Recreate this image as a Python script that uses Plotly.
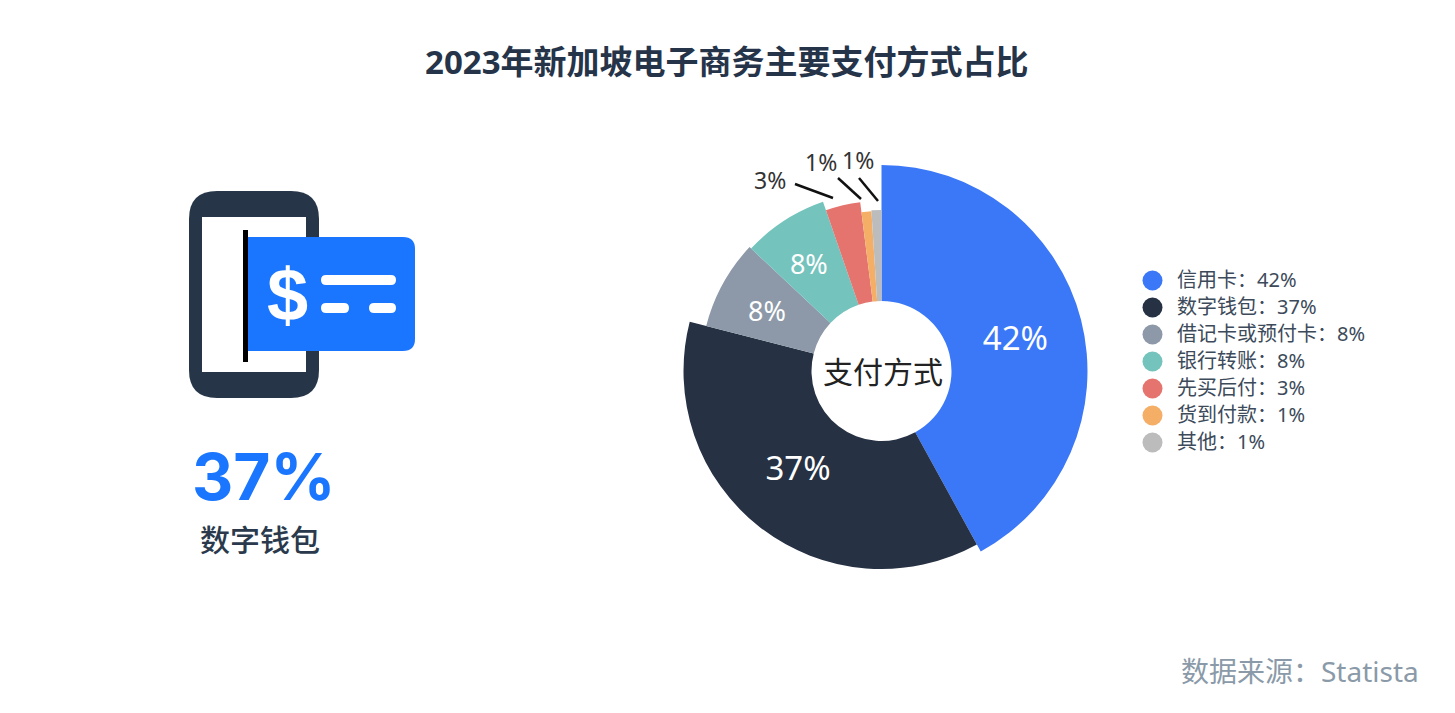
import plotly.graph_objects as go

WIDTH = 1455
HEIGHT = 713
FONT = "Noto Sans, Noto Sans CJK SC"
COLON = "\uff1a"

categories = ["信用卡", "数字钱包", "借记卡或预付卡", "银行转账", "先买后付", "货到付款", "其他"]
# the picture's teal / red border sits a bit before the rounded 8% / 3%
shares = [42, 37, 8, 7.7, 3.3, 1, 1]
# radius of each slice (px)
outer_radius = [206, 198, 181, 179, 170, 160, 161]
colors = ["#3b78f8", "#263143", "#8d99a8", "#74c3bd", "#e5746f", "#f4ae66", "#bcbcbc"]
inner_radius = 70

# labels that sit inside the big slices
inside_radius = [137, 131, 128, 127]
inside_theta = [77.7, 219.6, 296.5, 325.1]
inside_sizes = [33, 33, 27, 27]

center_x, center_y = 881.5, 371
max_r = 210

# slice angles, clockwise from 12 o'clock
widths = [s * 3.6 for s in shares]
mids = []
start = 0
for w in widths:
    mids.append(start + w / 2)
    start += w


def rounded(x0, y0, x1, y1, tl, tr, br, bl):
    return (f"M {x0+tl} {y0} L {x1-tr} {y0} Q {x1} {y0} {x1} {y0+tr} "
            f"L {x1} {y1-br} Q {x1} {y1} {x1-br} {y1} "
            f"L {x0+bl} {y1} Q {x0} {y1} {x0} {y1-bl} "
            f"L {x0} {y0+tl} Q {x0} {y0} {x0+tl} {y0} Z")


def box(path, color):
    return dict(type="path", path=path, fillcolor=color, line=dict(width=0), xref="x", yref="y")


def leader(x0, y0, x1, y1):
    return dict(type="line", x0=x0, y0=y0, x1=x1, y1=y1, xref="x", yref="y",
                line=dict(color="#111111", width=2.5))


def label(x, y, text, size, color, bold=False, family=FONT):
    return dict(x=x, y=y, xref="x", yref="y", text=f"<b>{text}</b>" if bold else text, showarrow=False,
                xanchor="center", yanchor="middle",
                font=dict(family=family, size=size, color=color))


fig = go.Figure()

fig.add_trace(go.Barpolar(
    r=[o - inner_radius for o in outer_radius],
    base=inner_radius,
    theta=mids,
    width=widths,
    marker=dict(color=colors, line=dict(width=0)),
    showlegend=False,
))

fig.add_trace(go.Scatterpolar(
    r=inside_radius,
    theta=inside_theta,
    mode="text",
    text=[f"{round(s)}%" for s in shares[:4]],
    textposition="middle center",
    textfont=dict(family=FONT, size=inside_sizes, color="#ffffff"),
    showlegend=False,
))

# legend, drawn by hand so the dots and row spacing match
legend_rows = [280.5 + 27 * i for i in range(len(categories))]
fig.add_trace(go.Scatter(
    x=[1152.5] * len(categories),
    y=legend_rows,
    mode="markers",
    marker=dict(color=colors, size=20),
    showlegend=False,
))
fig.add_trace(go.Scatter(
    x=[1177] * len(categories),
    y=[row + 1 for row in legend_rows],
    mode="text",
    text=[f"{c}{COLON}{round(s)}%" for c, s in zip(categories, shares)],
    textposition="middle right",
    textfont=dict(family=FONT, size=20, color="#3c4a5a"),
    showlegend=False,
))

shapes = [
    # phone
    box(rounded(189, 191, 319, 398, 28, 28, 28, 28), "#263648"),
    box(rounded(202, 217, 306, 372, 0, 0, 0, 0), "#ffffff"),
    # card
    box(rounded(248, 237, 415, 351, 0, 12, 12, 0), "#1a76ff"),
    box(rounded(243, 230, 248, 362, 0, 0, 0, 0), "#000000"),
    box(rounded(321, 275, 396, 285, 5, 5, 5, 5), "#ffffff"),
    box(rounded(321, 303, 349, 313, 5, 5, 5, 5), "#ffffff"),
    box(rounded(369, 303, 396, 313, 5, 5, 5, 5), "#ffffff"),
    # leader lines
    leader(795, 184, 833, 198),
    leader(838, 178, 861, 199),
    leader(859, 178, 878, 201),
]

annotations = [
    label(727, 61, "2023年新加坡电子商务主要支付方式占比", 33, "#26344a", bold=True),
    label(264, 476, "37%", 64, "#1a76ff", bold=True, family="Inter"),
    label(260, 538, "数字钱包", 30, "#2a3a4c", family="Noto Sans CJK SC Medium, Noto Sans CJK SC"),
    label(1300, 671, f"数据来源{COLON}Statista", 28, "#8a9aa8"),
    label(883, 371, "支付方式", 30, "#222222"),
    label(770, 180, "3%", 23, "#333333"),
    label(821, 162, "1%", 23, "#333333"),
    label(858, 160, "1%", 23, "#333333"),
    label(287, 294, "<b>$</b>", 74, "#ffffff", family="Liberation Sans"),
]

fig.update_layout(
    width=WIDTH,
    height=HEIGHT,
    margin=dict(l=0, r=0, t=0, b=0),
    paper_bgcolor="#ffffff",
    plot_bgcolor="#ffffff",
    xaxis=dict(range=[0, WIDTH], visible=False, fixedrange=True),
    yaxis=dict(range=[HEIGHT, 0], visible=False, fixedrange=True),
    polar=dict(
        domain=dict(
            x=[(center_x - max_r) / WIDTH, (center_x + max_r) / WIDTH],
            y=[(HEIGHT - center_y - max_r) / HEIGHT, (HEIGHT - center_y + max_r) / HEIGHT],
        ),
        bgcolor="rgba(0,0,0,0)",
        radialaxis=dict(range=[0, max_r], visible=False),
        angularaxis=dict(visible=False, rotation=90, direction="clockwise"),
        bargap=0,
    ),
    shapes=shapes,
    annotations=annotations,
    showlegend=False,
)

fig.write_html("out.html", config={"displayModeBar": False},
               post_script="document.body.style.margin='0';")
